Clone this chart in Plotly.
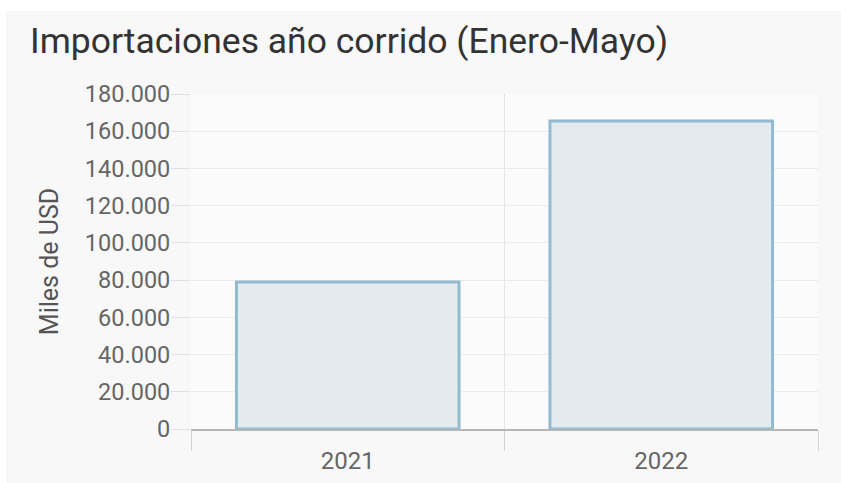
import plotly.graph_objects as go

years = ["2021", "2022"]
values = [79000, 165500]
y_ticks = [0, 20000, 40000, 60000, 80000, 100000, 120000, 140000, 160000, 180000]

title_text = "Importaciones año corrido (Enero-Mayo)"
y_title = "Miles de USD"

W, H = 841, 483
L, R, T, B = 191, 23, 94, 54
pw = W - L - R
ph = H - T - B

fig = go.Figure()
fig.add_trace(go.Bar(
    x=years, y=values,
    marker=dict(color="#e3ebef", line=dict(color="#93bbcf", width=3)),
    hoverinfo="x+y",
))

# white page strips left and above the card
card_left, card_top = 6, 11
fig.add_shape(
    type="rect", xref="paper", yref="paper", layer="below",
    x0=(-L - 5) / pw, x1=(card_left - L) / pw,
    y0=-(B + 5) / ph, y1=1 + (T + 5) / ph,
    fillcolor="#ffffff", line=dict(width=0),
)
fig.add_shape(
    type="rect", xref="paper", yref="paper", layer="below",
    x0=(-L - 5) / pw, x1=(W + 5 - L) / pw,
    y0=1 + (T - card_top) / ph, y1=1 + (T + 5) / ph,
    fillcolor="#ffffff", line=dict(width=0),
)
# slightly lighter plotting area
fig.add_shape(
    type="rect", xref="paper", yref="paper", layer="below",
    x0=0, x1=1, y0=0, y1=1,
    fillcolor="#fbfbfb", line=dict(width=0),
)

fig.update_layout(
    width=W, height=H,
    margin=dict(l=L, r=R, t=T, b=B, autoexpand=False),
    paper_bgcolor="#f8f8f8",
    plot_bgcolor="rgba(0,0,0,0)",
    separators=",.",
    showlegend=False,
    bargap=0.29,
    font=dict(family="Roboto, Arial, sans-serif", color="#666666"),
    title=dict(
        text=title_text,
        x=30 / W, xref="container", xanchor="left",
        y=1 - 41 / H, yref="container", yanchor="middle",
        font=dict(size=35.5, color="#333333", family="Roboto, Arial, sans-serif"),
    ),
    xaxis=dict(
        type="category",
        tickson="boundaries",
        showgrid=True, gridcolor="#e6e6e6", gridwidth=1,
        ticks="outside", ticklen=20, tickcolor="#d4d4d4", tickwidth=1,
        showline=True, linecolor="#b5b5b5", linewidth=2,
        tickfont=dict(size=24, color="#666666"),
        ticklabelstandoff=9,
        range=[-0.5, 1.5],
    ),
    yaxis=dict(
        range=[0, 180000],
        tickvals=y_ticks,
        tickformat=",d",
        showgrid=True, gridcolor="#ebebeb", gridwidth=1,
        ticks="outside", ticklen=19, tickcolor="#e0e0e0", tickwidth=1,
        ticklabelstandoff=-4,
        zeroline=False, showline=False,
        tickfont=dict(size=23.5, color="#666666"),
        title=dict(text=y_title, font=dict(size=25, color="#555555"), standoff=19),
    ),
)

fig.write_html(
    "out.html",
    config={"displayModeBar": False},
    post_script="document.body.style.margin='0';document.documentElement.style.overflow='hidden';",
)
